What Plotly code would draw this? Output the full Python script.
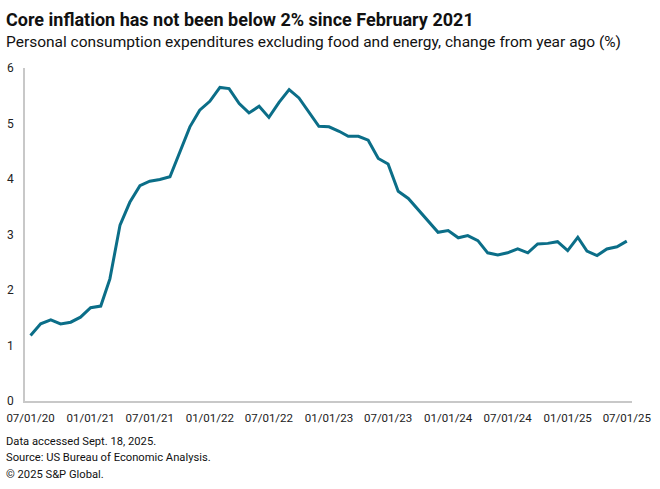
import pandas as pd
import plotly.graph_objects as go

start_month = "2020-07-01"
core_pce_yoy = [1.18, 1.39, 1.46, 1.39, 1.42, 1.51,
                1.68, 1.71, 2.20, 3.17, 3.58, 3.88, 3.96, 3.99, 4.04, 4.48, 4.94, 5.24,
                5.40, 5.65, 5.63, 5.36, 5.19, 5.31, 5.11, 5.38, 5.61, 5.46, 5.21, 4.95,
                4.94, 4.86, 4.77, 4.77, 4.70, 4.37, 4.27, 3.78, 3.65, 3.45, 3.24, 3.04,
                3.07, 2.94, 2.98, 2.89, 2.67, 2.63, 2.67, 2.74, 2.67, 2.83, 2.84, 2.87,
                2.71, 2.95, 2.70, 2.62, 2.74, 2.78, 2.88]
months = pd.date_range(start_month, periods=len(core_pce_yoy), freq="MS")

tick_dates = ["2020-07-01", "2021-01-01", "2021-07-01", "2022-01-01", "2022-07-01",
              "2023-01-01", "2023-07-01", "2024-01-01", "2024-07-01", "2025-01-01",
              "2025-07-01"]
tick_labels = ["07/01/20", "01/01/21", "07/01/21", "01/01/22", "07/01/22",
               "01/01/23", "07/01/23", "01/01/24", "07/01/24", "01/01/25",
               "07/01/25"]
y_ticks = [0, 1, 2, 3, 4, 5, 6]

title = "Core inflation has not been below 2% since February 2021"
subtitle = "Personal consumption expenditures excluding food and energy, change from year ago (%)"
notes = ["Data accessed Sept. 18, 2025.",
         "Source: US Bureau of Economic Analysis.",
         "© 2025 S&P Global."]

FONT = "Roboto"
fig = go.Figure()
fig.add_trace(go.Scatter(x=months, y=core_pce_yoy, mode="lines",
                         line=dict(color="#0b6e88", width=3), hoverinfo="x+y"))

W, H = 660, 489
L, R, T, B = 25, 28, 68, 88
ph = H - T - B
pw = W - L - R

def py(pix):
    return (H - B - pix) / ph

def px(pix):
    return (pix - L) / pw

fig.update_layout(
    width=W, height=H,
    margin=dict(l=L, r=R, t=T, b=B, autoexpand=False),
    paper_bgcolor="white", plot_bgcolor="white",
    showlegend=False,
    font=dict(family=FONT, color="#222222", size=12),
    xaxis=dict(type="date", range=["2020-06-14", "2025-07-17"],
               tickvals=tick_dates, ticktext=tick_labels, automargin=False,
               showgrid=False, zeroline=False, showline=True,
               linecolor="#c8c8c8", linewidth=1.5, ticks="",
               ticklabelstandoff=5,
               tickfont=dict(size=11.5, family=FONT, color="#222222")),
    yaxis=dict(range=[0, 6], tickvals=y_ticks, showgrid=False, zeroline=False,
               showline=True, linecolor="#c8c8c8", linewidth=1.5, ticks="",
               ticklabelstandoff=7, automargin=False,
               tickfont=dict(size=12, family=FONT, color="#222222")),
)

annos = [
    dict(text="<b>" + title + "</b>", x=px(4), y=py(19), size=18),
    dict(text=subtitle, x=px(4), y=py(42), size=15.5),
]
for i, n in enumerate(notes):
    annos.append(dict(text=n, x=px(4), y=py(441 + 16.5 * i), size=11.2))
for a in annos:
    fig.add_annotation(text=a["text"], x=a["x"], y=a["y"], xref="paper", yref="paper",
                       xanchor="left", yanchor="middle", showarrow=False,
                       font=dict(family=FONT, size=a["size"], color="#111111"))

fig.write_html("out.html", config={"displayModeBar": False},
               post_script="document.body.style.margin='0';document.body.style.overflow='hidden';")
